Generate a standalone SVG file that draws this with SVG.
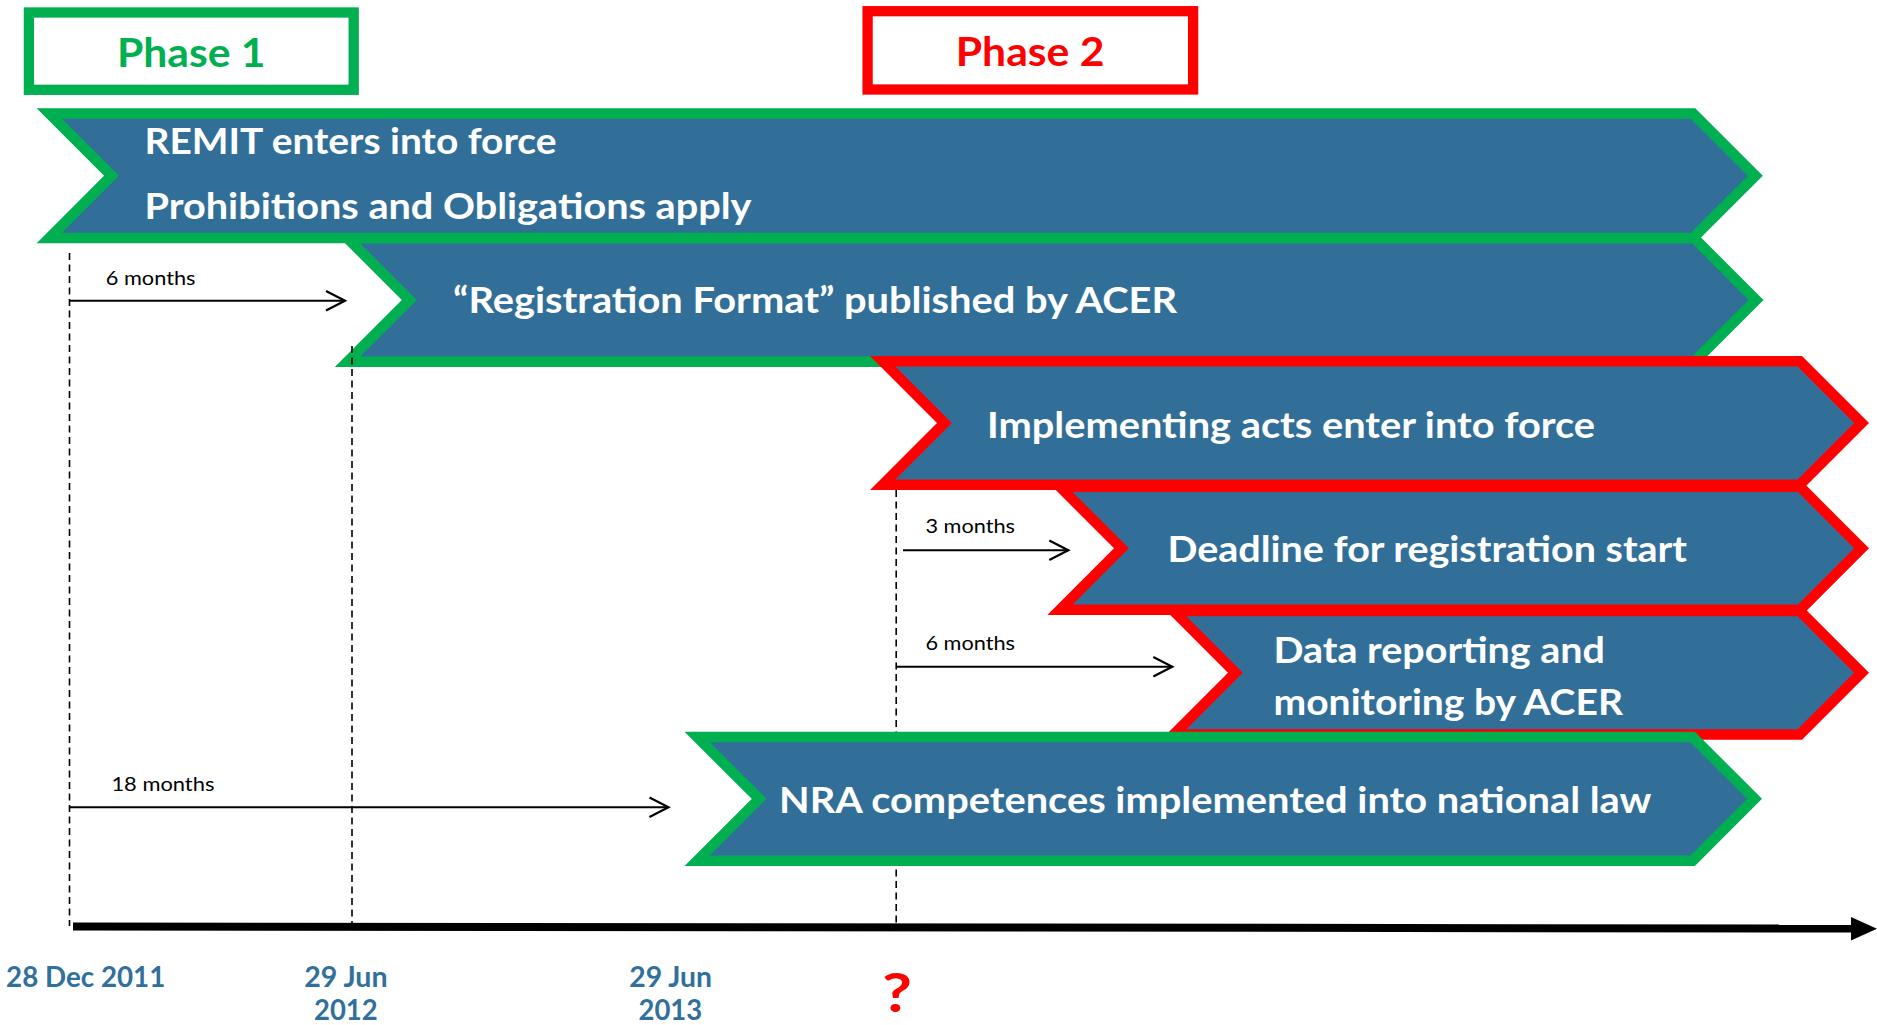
<svg xmlns="http://www.w3.org/2000/svg" width="1877" height="1025" viewBox="0 0 1877 1025">
  <defs>
    <style>
      .band { fill: #326F98; stroke-width: 10.5; stroke-linejoin: miter; stroke-miterlimit: 10; }
      .g { stroke: #00B050; }
      .r { stroke: #FF0000; }
      .phase { fill: #FFFFFF; stroke-width: 10.3; }
      .t { font-family: Lato, 'Liberation Sans', sans-serif; }
      .lbl { fill: #FFFFFF; font-size: 36px; font-weight: 700; }
      .ph { font-size: 41px; font-weight: 700; }
      .small { fill: #000000; font-size: 19px; font-weight: 400; }
      .date { fill: #31709C; font-size: 28px; font-weight: 700; }
      .dash { stroke: #000000; stroke-width: 1.6; stroke-dasharray: 7 4.5; fill: none; }
      .span { stroke: #000000; stroke-width: 2; fill: none; marker-end: url(#open); }
    </style>
    <marker id="open" markerUnits="userSpaceOnUse" markerWidth="24" markerHeight="24" refX="20" refY="11" orient="auto" viewBox="0 0 24 24">
      <path d="M1,1.3 L20,11 L1,20.7" fill="none" stroke="#000000" stroke-width="2.2"/>
    </marker>
  </defs>

  <!-- phase boxes -->
  <g id="phase1">
    <rect class="phase g" x="28.9" y="12.5" width="324.8" height="77.3"/>
    <text class="t ph" x="117" y="66.7" fill="#00B050" textLength="148.6" lengthAdjust="spacingAndGlyphs">Phase 1</text>
  </g>
  <g id="phase2">
    <rect class="phase r" x="867.6" y="11.2" width="325.5" height="78.3"/>
    <text class="t ph" x="955.8" y="65.7" fill="#FF0000" textLength="148.6" lengthAdjust="spacingAndGlyphs">Phase 2</text>
  </g>

  <!-- milestone bands -->
  <g id="remit">
    <polygon class="band g" points="49.3,113.55 1693.1,113.55 1755.4,175.8 1693.1,238.05 49.3,238.05 111.5,175.8"/>
    <text class="t lbl" x="144.5" y="154" textLength="412" lengthAdjust="spacingAndGlyphs">REMIT enters into force</text>
    <text class="t lbl" x="144.5" y="219" textLength="607" lengthAdjust="spacingAndGlyphs">Prohibitions and Obligations apply</text>
  </g>
  <g id="registration-format">
    <polygon class="band g" points="347.5,238.25 1694.35,238.25 1756.1,300 1694.35,361.75 347.5,361.75 409.25,300"/>
    <text class="t lbl" x="453" y="313.3" textLength="724" lengthAdjust="spacingAndGlyphs">“Registration Format” published by ACER</text>
  </g>
  <g id="implementing-acts">
    <polygon class="band r" points="882.7,361.25 1799.85,361.25 1861.6,423 1799.85,484.75 882.7,484.75 944.45,423"/>
    <text class="t lbl" x="987" y="438.3" textLength="608" lengthAdjust="spacingAndGlyphs">Implementing acts enter into force</text>
  </g>
  <g id="registration-deadline">
    <polygon class="band r" points="1060,486.85 1800.15,486.85 1861.6,548.3 1800.15,609.75 1060,609.75 1121.45,548.3"/>
    <text class="t lbl" x="1167.5" y="561.7" textLength="519.5" lengthAdjust="spacingAndGlyphs">Deadline for registration start</text>
  </g>
  <g id="data-reporting">
    <polygon class="band r" points="1173.7,610.95 1799.85,610.95 1861.6,672.7 1799.85,734.45 1173.7,734.45 1235.45,672.7"/>
    <text class="t lbl" x="1273.5" y="663.3" textLength="331.5" lengthAdjust="spacingAndGlyphs">Data reporting and</text>
    <text class="t lbl" x="1273.5" y="715" textLength="349.5" lengthAdjust="spacingAndGlyphs">monitoring by ACER</text>
  </g>

  <!-- date guides and interval spans -->
  <g id="connectors">
    <line class="dash" x1="69.5" y1="253" x2="69.5" y2="926"/>
    <line class="dash" x1="352" y1="346" x2="352" y2="926"/>
    <line class="dash" x1="896.2" y1="490" x2="896.2" y2="926"/>
    <line class="span" x1="69.5" y1="300.7" x2="345" y2="300.7"/>
    <line class="span" x1="903" y1="550.3" x2="1068.3" y2="550.3"/>
    <line class="span" x1="896.2" y1="666.7" x2="1172.3" y2="666.7"/>
    <line class="span" x1="69.5" y1="807.3" x2="668.5" y2="807.3"/>
    <text class="t small" x="105.8" y="285" textLength="89.7" lengthAdjust="spacingAndGlyphs">6 months</text>
    <text class="t small" x="925.4" y="532.7" textLength="89.6" lengthAdjust="spacingAndGlyphs">3 months</text>
    <text class="t small" x="925.4" y="650" textLength="89.6" lengthAdjust="spacingAndGlyphs">6 months</text>
    <text class="t small" x="111.4" y="790.7" textLength="103" lengthAdjust="spacingAndGlyphs">18 months</text>
  </g>

  <g id="nra-competences">
    <polygon class="band g" points="697.2,736.95 1692.7,736.95 1754.6,798.85 1692.7,860.75 697.2,860.75 759.1,798.85"/>
    <text class="t lbl" x="779" y="813.3" textLength="872.5" lengthAdjust="spacingAndGlyphs">NRA competences implemented into national law</text>
  </g>

  <!-- time axis -->
  <g id="timeline">
    <line x1="73" y1="926.5" x2="1856" y2="928.5" stroke="#000000" stroke-width="8"/>
    <polygon points="1851,917 1877,928.7 1851,940.5" fill="#000000"/>
  </g>

  <!-- dates -->
  <g id="dates">
    <text class="t date" x="6.1" y="987" textLength="159.2" lengthAdjust="spacingAndGlyphs">28 Dec 2011</text>
    <text class="t date" x="304.3" y="987" textLength="83.2" lengthAdjust="spacingAndGlyphs">29 Jun</text>
    <text class="t date" x="314" y="1020" textLength="63.7" lengthAdjust="spacingAndGlyphs">2012</text>
    <text class="t date" x="629.3" y="987" textLength="82.7" lengthAdjust="spacingAndGlyphs">29 Jun</text>
    <text class="t date" x="638.5" y="1020" textLength="63.7" lengthAdjust="spacingAndGlyphs">2013</text>
    <text class="t" x="882" y="1012" fill="#FF0000" font-size="54" font-weight="700" textLength="30" lengthAdjust="spacingAndGlyphs">?</text>
  </g>
</svg>
